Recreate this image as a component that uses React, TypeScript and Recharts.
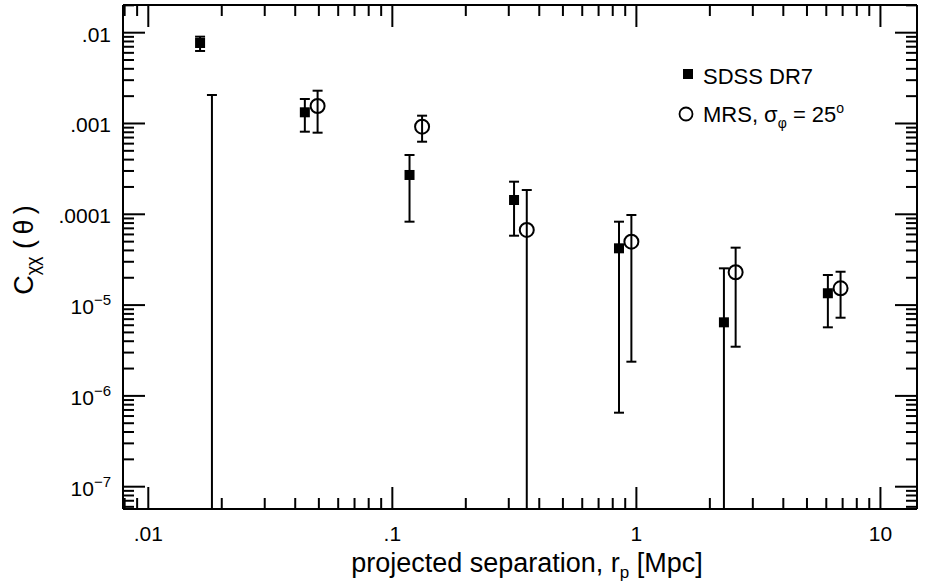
import React from 'react';
import { ScatterChart, Scatter, XAxis, YAxis, ErrorBar, Legend } from 'recharts';

const FONT = '"Liberation Sans", Arial, Helvetica, sans-serif';

// SDSS DR7 (filled squares)
const sdssR = [0.0163, 0.0438, 0.1176, 0.3153, 0.8486, 2.284, 6.09];
const sdssC = [0.0077, 0.001328, 0.000271, 0.0001437, 4.22e-5, 6.46e-6, 1.35e-5];
const sdssHi = [0.00904, 0.001862, 0.00045, 0.0002286, 8.29e-5, 2.54e-5, 2.145e-5];
const sdssLo = [0.00629, 0.000812, 8.29e-5, 5.81e-5, 6.53e-7, 1e-10, 5.69e-6];

// MRS, sigma_phi = 25 deg (open circles); first point lies below the plot
const mrsR = [0.01823, 0.0494, 0.1324, 0.3555, 0.9539, 2.551, 6.865];
const mrsC = [1e-9, 0.001558, 0.000922, 6.72e-5, 4.99e-5, 2.3e-5, 1.53e-5];
const mrsHi = [0.00206, 0.002297, 0.001219, 0.000185, 9.82e-5, 4.29e-5, 2.33e-5];
const mrsLo = [1e-10, 0.000792, 0.00063, 1e-10, 2.38e-6, 3.48e-6, 7.26e-6];

const xDomain = [0.007877, 14.12];
const yDomain = [5.68e-8, 0.02018];

const xMajor = [0.01, 0.1, 1, 10];
const xMajorLabels = ['.01', '.1', '1', '10'];
const yMajor = [1e-7, 1e-6, 1e-5, 1e-4, 1e-3, 1e-2];
const yMajorLabels = [['10', '−7'], ['10', '−6'], ['10', '−5'], ['.0001', ''], ['.001', ''], ['.01', '']];

const minorTicks = (lo: number, hi: number) => {
  const out: number[] = [];
  for (let e = Math.floor(Math.log10(lo)); e <= Math.ceil(Math.log10(hi)); e++) {
    for (let m = 1; m < 10; m++) {
      const v = Number((m * Math.pow(10, e)).toPrecision(6));
      if (v >= lo && v <= hi) out.push(v);
    }
  }
  return out;
};
const xTicks = minorTicks(xDomain[0], xDomain[1]);
const yTicks = minorTicks(yDomain[0], yDomain[1]);

const majorIndex = (v: number, list: number[]) => list.findIndex((m) => Math.abs(v / m - 1) < 1e-6);

// values / error bars running off the bottom of the plot stop at the frame
const build = (r: number[], c: number[], hi: number[], lo: number[]) =>
  r.map((x, i) => {
    const v = Math.max(c[i], yDomain[0]);
    return { r: x, c: v, hidden: c[i] < yDomain[0], err: [v - Math.max(lo[i], yDomain[0]), hi[i] - v] };
  });

const sdssData = build(sdssR, sdssC, sdssHi, sdssLo);
const mrsData = build(mrsR, mrsC, mrsHi, mrsLo);

const MAJOR = 22;
const MINOR = 11;

function BottomTick(props: any) {
  const { x, y, payload } = props;
  const i = majorIndex(payload.value, xMajor);
  return (
    <g>
      <line x1={x} x2={x} y1={y} y2={y - (i >= 0 ? MAJOR : MINOR)} stroke="#000" strokeWidth={2} />
      {i >= 0 && (
        <text x={x} y={y + 32} textAnchor="middle" fontSize={21} fontFamily={FONT} fill="#000">
          {xMajorLabels[i]}
        </text>
      )}
    </g>
  );
}

function TopTick(props: any) {
  const { x, y, payload } = props;
  const i = majorIndex(payload.value, xMajor);
  return <line x1={x} x2={x} y1={y} y2={y + (i >= 0 ? MAJOR : MINOR)} stroke="#000" strokeWidth={2} />;
}

function LeftTick(props: any) {
  const { x, y, payload } = props;
  const i = majorIndex(payload.value, yMajor);
  return (
    <g>
      <line x1={x} x2={x + (i >= 0 ? MAJOR : MINOR)} y1={y} y2={y} stroke="#000" strokeWidth={2} />
      {i >= 0 && (
        <text x={x - 12} y={y + 9} textAnchor="end" fontSize={21} fontFamily={FONT} fill="#000">
          {yMajorLabels[i][0]}
          {yMajorLabels[i][1] && (
            <tspan fontSize={15} dy={-9}>
              {yMajorLabels[i][1]}
            </tspan>
          )}
        </text>
      )}
    </g>
  );
}

function RightTick(props: any) {
  const { x, y, payload } = props;
  const i = majorIndex(payload.value, yMajor);
  return <line x1={x} x2={x - (i >= 0 ? MAJOR : MINOR)} y1={y} y2={y} stroke="#000" strokeWidth={2} />;
}

const Square = (p: any) => <rect x={p.cx - 5} y={p.cy - 5} width={10} height={10} fill="#000" />;
const Circle = (p: any) =>
  p.payload.hidden ? <g /> : <circle cx={p.cx} cy={p.cy} r={7} fill="none" stroke="#000" strokeWidth={2} />;

function XTitle() {
  return (
    <text x={527} y={572} textAnchor="middle" fontSize={27} fontFamily={FONT} fill="#000">
      projected separation, r
      <tspan fontSize={17} dy={6}>p</tspan>
      <tspan dy={-6}> [Mpc]</tspan>
    </text>
  );
}

function YTitle() {
  return (
    <text
      x={33}
      y={250}
      transform="rotate(-90, 33, 250)"
      textAnchor="middle"
      fontSize={27}
      fontFamily={FONT}
      fill="#000"
    >
      C<tspan fontSize={18} dy={6}>χχ</tspan>
      <tspan dy={-6}> (&#8201;θ&#8201;)</tspan>
    </text>
  );
}

function LegendBox() {
  return (
    <svg width={260} height={90} style={{ display: 'block' }}>
      <rect x={23} y={19} width={10} height={10} fill="#000" />
      <text x={43} y={34} fontSize={22} fontFamily={FONT} fill="#000">SDSS DR7</text>
      <circle cx={26} cy={64} r={6.5} fill="none" stroke="#000" strokeWidth={1.8} />
      <text x={43} y={72} fontSize={22} fontFamily={FONT} fill="#000">
        MRS, σ<tspan fontSize={14} dy={6}>φ</tspan>
        <tspan dy={-6}> = 25</tspan>
        <tspan fontSize={14} dy={-9}>o</tspan>
      </text>
    </svg>
  );
}

export default function App() {
  return (
    <div style={{ position: 'fixed', left: 0, top: 0, width: 926, height: 583, background: '#fff' }}>
      <ScatterChart width={926} height={583} margin={{ top: 4, right: 8, bottom: 0, left: 0 }}>
        <XAxis
          xAxisId="bottom"
          dataKey="r"
          type="number"
          scale="log"
          domain={xDomain}
          allowDataOverflow
          ticks={xTicks}
          interval={0}
          height={74}
          tickSize={0}
          tickMargin={0}
          tickLine={false}
          axisLine={{ stroke: '#000', strokeWidth: 2 }}
          tick={BottomTick}
          label={{ content: XTitle }}
        />
        <XAxis
          xAxisId="top"
          orientation="top"
          dataKey="r"
          type="number"
          scale="log"
          domain={xDomain}
          allowDataOverflow
          ticks={xTicks}
          interval={0}
          height={1}
          tickSize={0}
          tickMargin={0}
          tickLine={false}
          axisLine={{ stroke: '#000', strokeWidth: 2 }}
          tick={TopTick}
        />
        <YAxis
          yAxisId="left"
          dataKey="c"
          type="number"
          scale="log"
          domain={yDomain}
          allowDataOverflow
          ticks={yTicks}
          interval={0}
          width={123}
          tickSize={0}
          tickMargin={0}
          tickLine={false}
          axisLine={{ stroke: '#000', strokeWidth: 2 }}
          tick={LeftTick}
          label={{ content: YTitle }}
        />
        <YAxis
          yAxisId="right"
          orientation="right"
          dataKey="c"
          type="number"
          scale="log"
          domain={yDomain}
          allowDataOverflow
          ticks={yTicks}
          interval={0}
          width={1}
          tickSize={0}
          tickMargin={0}
          tickLine={false}
          axisLine={{ stroke: '#000', strokeWidth: 2 }}
          tick={RightTick}
        />
        <Legend
          layout="vertical"
          align="center"
          verticalAlign="middle"
          wrapperStyle={{ left: 660, top: 50, width: 260 }}
          content={LegendBox}
        />
        <Scatter
          name="SDSS DR7"
          data={sdssData}
          xAxisId="bottom"
          yAxisId="left"
          shape={Square}
          isAnimationActive={false}
        >
          <ErrorBar dataKey="err" direction="y" width={5} stroke="#000" strokeWidth={2} isAnimationActive={false} />
        </Scatter>
        <Scatter
          name="MRS"
          data={mrsData}
          xAxisId="top"
          yAxisId="right"
          shape={Circle}
          isAnimationActive={false}
        >
          <ErrorBar dataKey="err" direction="y" width={5} stroke="#000" strokeWidth={2} isAnimationActive={false} />
        </Scatter>
      </ScatterChart>
    </div>
  );
}
